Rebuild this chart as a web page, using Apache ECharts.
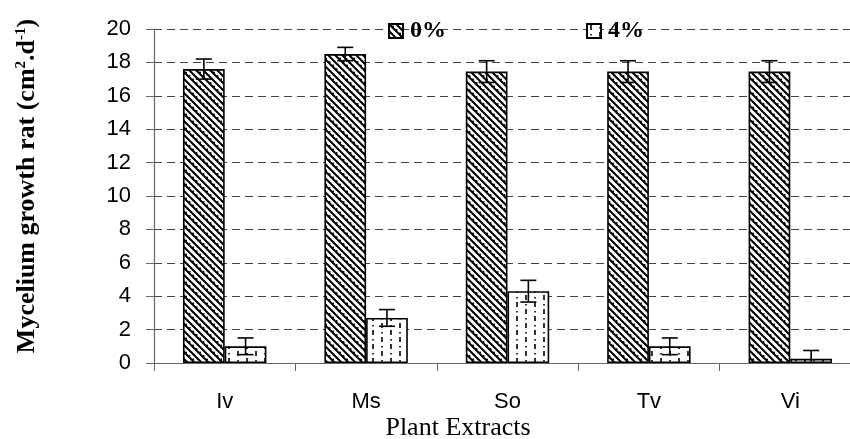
<!DOCTYPE html>
<html><head><meta charset="utf-8">
<script src="https://cdn.jsdelivr.net/npm/echarts@6/dist/echarts.min.js"></script>
<style>html,body{margin:0;padding:0;background:#fff}#c{width:850px;height:439px}</style>
</head><body><div id="c"></div>
<script>
var categories = ['Iv', 'Ms', 'So', 'Tv', 'Vi'];
var seriesNames = ['0%', '4%'];
var values0 = [17.6, 18.5, 17.45, 17.45, 17.45];
var errors0 = [0.6, 0.4, 0.65, 0.65, 0.65];
var values4 = [1.0, 2.7, 4.3, 1.0, 0.25];
var errors4 = [0.5, 0.5, 0.65, 0.5, 0.5];
var yTicks = [0, 2, 4, 6, 8, 10, 12, 14, 16, 18, 20];

function makeHatch() {
  var s = 14, c = document.createElement('canvas');
  c.width = s; c.height = s;
  var g = c.getContext('2d');
  g.fillStyle = '#fff'; g.fillRect(0, 0, s, s);
  g.strokeStyle = '#000'; g.lineWidth = 2;
  for (var k = -2; k <= 2; k++) {
    var off = k * 7;
    g.beginPath(); g.moveTo(off - 2, -2); g.lineTo(off + s + 2, s + 2); g.stroke();
  }
  g.fillStyle = '#000';
  for (var i = 0; i < 4; i++) {
    var x = (3.5 + i * 3.5) % s, y = (i * 3.5) % s;
    g.beginPath(); g.arc(x + 0.5, y + 2.5, 1.1, 0, Math.PI * 2); g.fill();
  }
  return c;
}
function makeDash() {
  var w = 18, h = 14, c = document.createElement('canvas');
  c.width = w; c.height = h;
  var g = c.getContext('2d');
  g.fillStyle = '#fff'; g.fillRect(0, 0, w, h);
  g.fillStyle = '#333';
  g.fillRect(3, 1, 2, 5); g.fillRect(3, 10, 2, 1.5);
  g.fillRect(12, 8, 2, 5); g.fillRect(12, 3, 2, 1.5);
  return c;
}
var hatch = { image: makeHatch(), repeat: 'repeat' };
var dash = { image: makeDash(), repeat: 'repeat' };

var BAR_FRAC = 0.295;
function errRender(side) {
  return function (params, api) {
    var idx = api.value(0), v = api.value(1), e = api.value(2);
    var band = api.size([1, 0])[0];
    var center = api.coord([idx, v]);
    var x = center[0] + side * band * BAR_FRAC / 2;
    var top = api.coord([idx, v + e])[1];
    var lowV = v - e;
    var bot = api.coord([idx, Math.max(0, lowV)])[1];
    var hw = 8;
    var st = { stroke: '#000', lineWidth: 1.6 };
    var ch = [
      { type: 'line', shape: { x1: x, y1: top, x2: x, y2: bot }, style: st },
      { type: 'line', shape: { x1: x - hw, y1: top, x2: x + hw, y2: top }, style: st }
    ];
    if (lowV > 0) ch.push({ type: 'line', shape: { x1: x - hw, y1: bot, x2: x + hw, y2: bot }, style: st });
    return { type: 'group', children: ch };
  };
}

var chart = echarts.init(document.getElementById('c'), null, { renderer: 'canvas' });
chart.setOption({
  animation: false,
  backgroundColor: '#fff',
  legend: {
    data: seriesNames,
    left: 383, top: 14,
    itemWidth: 14, itemHeight: 14, itemGap: 140,
    icon: 'rect',
    textStyle: { fontFamily: 'Liberation Serif', fontWeight: 'bold', fontSize: 24, color: '#000', padding: [0, 0, 0, 2] }
  },
  graphic: [{
    type: 'text', x: 27, y: 186, rotation: Math.PI / 2,
    style: {
      text: '{a|Mycelium growth rat (cm}{s|2}{a|.d}{s|-1}{a|)}',
      align: 'center', verticalAlign: 'middle',
      rich: {
        a: { fontFamily: 'Liberation Serif', fontWeight: 'bold', fontSize: 26, fill: '#000' },
        s: { fontFamily: 'Liberation Serif', fontWeight: 'bold', fontSize: 15, fill: '#000', verticalAlign: 'top', padding: [0, 0, 12, 0] }
      }
    }
  }, {
    type: 'text', x: 458, y: 428,
    style: {
      text: 'Plant Extracts', align: 'center', verticalAlign: 'middle',
      fontFamily: 'Liberation Serif', fontSize: 26, fill: '#000'
    }
  }],
  grid: { left: 154, top: 29, bottom: 76, right: -11, containLabel: false, outerBoundsMode: 'none' },
  xAxis: {
    type: 'category', data: categories,
    axisLine: { lineStyle: { color: '#666', width: 1.2 } },
    axisTick: { show: true, length: 8, lineStyle: { color: '#666' } },
    axisLabel: { fontFamily: 'Liberation Sans', fontSize: 22, color: '#000', margin: 28 }
  },
  yAxis: {
    type: 'value', min: 0, max: 20, interval: 2,
    axisLine: { show: true, lineStyle: { color: '#666', width: 1.2 } },
    axisTick: { show: true, length: 8, lineStyle: { color: '#666' } },
    axisLabel: { fontFamily: 'Liberation Sans', fontSize: 22, color: '#000', margin: 23,
      formatter: function (v) { return yTicks.indexOf(v) >= 0 ? String(v) : ''; } },
    splitLine: { show: true, lineStyle: { color: '#444', type: [8, 5], width: 1 } }
  },
  series: [
    { name: '0%', type: 'bar', data: values0, barWidth: (BAR_FRAC * 100) + '%', barGap: '0%',
      itemStyle: { color: hatch, borderColor: '#000', borderWidth: 1.6 } },
    { name: '4%', type: 'bar', data: values4, barWidth: (BAR_FRAC * 100) + '%', barGap: '0%',
      itemStyle: { color: dash, borderColor: '#000', borderWidth: 1.6 } },
    { type: 'custom', renderItem: errRender(-1), z: 5,
      data: values0.map(function (v, i) { return [i, v, errors0[i]]; }), encode: { x: 0, y: 1 } },
    { type: 'custom', renderItem: errRender(1), z: 5,
      data: values4.map(function (v, i) { return [i, v, errors4[i]]; }), encode: { x: 0, y: 1 } }
  ]
});
</script></body></html>
